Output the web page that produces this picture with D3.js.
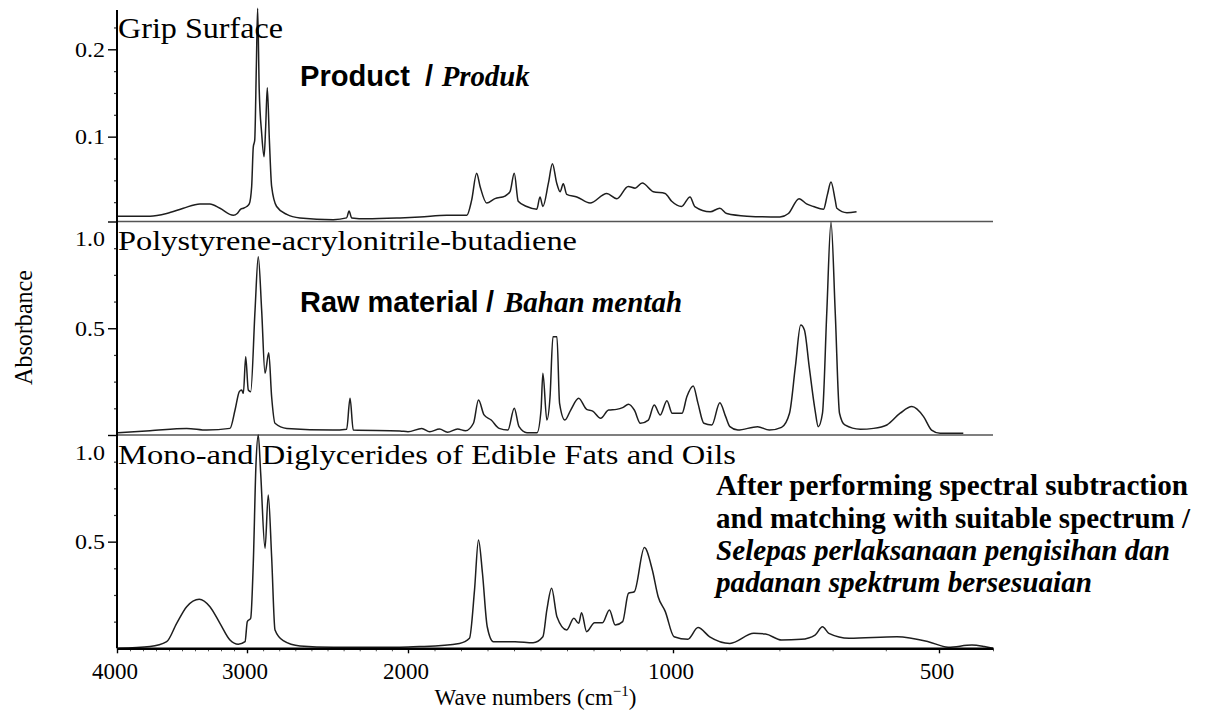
<!DOCTYPE html>
<html>
<head>
<meta charset="utf-8">
<script src="https://cdn.jsdelivr.net/npm/d3@7"></script>
<style>
  body { margin: 0; background: #fff; }
  svg { display: block; }
</style>
</head>
<body>
<svg id="chart" width="1213" height="719"></svg>
<script>
// ---- data (wave number in cm-1, absorbance) ----
const waveTicks = [4000, 3000, 2000, 1000, 500];
const waveTickLabels = ['4000', '3000', '2000', '1000', '500'];

const gripWave = [4000,3746,3618,3490,3362,3285,3208,3105,3075,3048,3028,3002,2986,2971,2961,2952,2942,2934,2924,2909,2894,2884,2874,2861,2847,2816,2753,2671,2464,2381,2366,2350,2257,2050,1955,1854,1778,1760,1741,1728,1703,1672,1634,1615,1599,1584,1552,1514,1502,1491,1470,1455,1439,1426,1414,1401,1363,1313,1250,1212,1169,1143,1116,1074,1030,1005,984,968,959,930,912,899,861,799,783,763,749,736,717,710,703,695,692,673,655];
const gripAbs = [0.009,0.009,0.012,0.018,0.023,0.023,0.018,0.010,0.012,0.017,0.018,0.020,0.023,0.043,0.088,0.096,0.180,0.247,0.153,0.104,0.077,0.111,0.156,0.096,0.043,0.020,0.011,0.007,0.005,0.007,0.015,0.007,0.006,0.007,0.008,0.010,0.010,0.027,0.058,0.043,0.024,0.029,0.032,0.037,0.058,0.026,0.020,0.017,0.031,0.020,0.047,0.069,0.047,0.037,0.046,0.034,0.031,0.024,0.035,0.029,0.043,0.041,0.047,0.037,0.035,0.026,0.020,0.031,0.020,0.014,0.018,0.012,0.009,0.008,0.012,0.029,0.023,0.020,0.017,0.033,0.048,0.027,0.018,0.013,0.014];

const absWave = [3992,3746,3464,3310,3131,3092,3059,3041,3028,3010,2992,2977,2950,2930,2909,2888,2865,2847,2826,2753,2466,2381,2360,2340,2050,2000,1948,1918,1881,1851,1813,1783,1753,1734,1713,1686,1656,1623,1599,1581,1551,1513,1498,1491,1476,1464,1453,1438,1428,1408,1386,1356,1326,1303,1273,1243,1213,1190,1168,1146,1123,1093,1071,1048,1023,1003,983,974,962,953,942,927,912,901,893,878,841,819,796,781,770,760,753,744,733,727,719,711,703,695,687,677,648,623,598,573,551,529,514,498,455];
const absAbs = [0.011,0.020,0.031,0.023,0.031,0.117,0.203,0.211,0.195,0.367,0.211,0.203,0.585,0.835,0.585,0.289,0.385,0.179,0.055,0.031,0.023,0.027,0.172,0.023,0.019,0.015,0.031,0.015,0.028,0.013,0.028,0.020,0.055,0.164,0.094,0.070,0.031,0.023,0.125,0.039,0.011,0.011,0.117,0.289,0.070,0.179,0.460,0.460,0.148,0.070,0.117,0.172,0.120,0.112,0.078,0.117,0.120,0.128,0.144,0.117,0.055,0.070,0.141,0.094,0.161,0.102,0.102,0.179,0.230,0.148,0.055,0.047,0.151,0.086,0.039,0.023,0.039,0.023,0.036,0.102,0.320,0.515,0.492,0.320,0.117,0.039,0.102,0.570,0.996,0.571,0.102,0.047,0.027,0.031,0.047,0.102,0.133,0.086,0.023,0.008,0.008];

const glycWave = [3990,3746,3618,3541,3464,3367,3285,3208,3131,3067,3015,2998,2977,2961,2944,2930,2915,2888,2868,2847,2826,2775,2671,2464,2050,1956,1806,1768,1749,1734,1719,1701,1678,1596,1528,1491,1476,1458,1438,1401,1374,1356,1345,1326,1296,1266,1240,1218,1190,1168,1146,1108,1078,1056,1029,998,972,953,931,893,848,826,796,759,733,719,707,669,579,520,483,439,416,400];
const glycAbs = [0.000,0.008,0.031,0.117,0.195,0.230,0.195,0.117,0.039,0.019,0.031,0.125,0.141,0.398,0.867,1.000,0.820,0.469,0.719,0.429,0.086,0.036,0.011,0.005,0.005,0.008,0.023,0.047,0.273,0.508,0.352,0.101,0.031,0.031,0.026,0.054,0.180,0.281,0.148,0.086,0.141,0.117,0.167,0.078,0.120,0.120,0.180,0.109,0.125,0.258,0.265,0.472,0.367,0.242,0.172,0.054,0.042,0.097,0.054,0.023,0.070,0.067,0.039,0.042,0.062,0.101,0.070,0.047,0.054,0.031,0.005,0.015,0.008,0.000];

const gripMajor = [0.1, 0.2];
const gripMinor = [0.025, 0.05, 0.075, 0.125, 0.15, 0.175, 0.225];
const fullMajor = [0.5, 1.0];
const fullMinor = [0.125, 0.25, 0.375, 0.625, 0.75, 0.875];

const panelTitles = ['Grip Surface', 'Polystyrene-acrylonitrile-butadiene', 'Mono-and Diglycerides of Edible Fats and Oils'];

// ---- layout ----
const svg = d3.select('#chart');
const serif = '"Liberation Serif", "Times New Roman", serif';
const sans = '"Liberation Sans", Arial, sans-serif';

// the x axis of the original changes scale at 2000 and 1000 cm-1
const x = d3.scaleLinear()
    .domain([4000, 3000, 2000, 1000, 500, 400])
    .range([117, 247, 408, 673, 939, 993]);

const panels = [
    { wave: gripWave, abs: gripAbs, y: d3.scaleLinear().domain([0, 0.2]).range([224, 49.3]),
      major: gripMajor, minor: gripMinor,
      title: panelTitles[0], titleY: 38.3, titleSize: 30, titleLen: 165 },
    { wave: absWave, abs: absAbs, y: d3.scaleLinear().domain([0, 1]).range([435, 221.5]),
      major: fullMajor, minor: fullMinor,
      title: panelTitles[1], titleY: 250, titleSize: 28, titleLen: 459 },
    { wave: glycWave, abs: glycAbs, y: d3.scaleLinear().domain([0, 1]).range([648.3, 435]),
      major: fullMajor, minor: fullMinor,
      title: panelTitles[2], titleY: 464.3, titleSize: 28, titleLen: 618 }
];

// divider lines between panels
[panels[1].y(1), panels[2].y(1)].forEach(yy => {
    svg.append('line')
        .attr('x1', x(4000)).attr('x2', x(400))
        .attr('y1', yy).attr('y2', yy)
        .attr('stroke', '#555').attr('stroke-width', 1.6);
});

panels.forEach(p => {
    // minor ticks
    const minorAxis = d3.axisLeft(p.y).tickValues(p.minor).tickSize(3).tickFormat('');
    const gm = svg.append('g').attr('transform', `translate(${x(4000)},0)`).call(minorAxis);
    gm.select('.domain').remove();
    gm.selectAll('line').attr('stroke', '#333').attr('stroke-width', 1.2);

    // major ticks + labels
    const majorAxis = d3.axisLeft(p.y).tickValues(p.major).tickSize(9).tickPadding(3).tickFormat(d3.format('.1f'));
    const g = svg.append('g').attr('transform', `translate(${x(4000)},0)`).call(majorAxis);
    g.select('.domain').remove();
    g.selectAll('line').attr('stroke', '#000').attr('stroke-width', 1.4);
    g.selectAll('text')
        .style('font-family', serif).style('font-size', '22px').attr('fill', '#000')
        .attr('textLength', 30).attr('lengthAdjust', 'spacingAndGlyphs');
    g.selectAll('.tick text').filter(d => d === 1).attr('dy', '1.1em');

    // spectrum
    const line = d3.line()
        .x((d, i) => x(p.wave[i]))
        .y((d, i) => p.y(p.abs[i]))
        .curve(d3.curveMonotoneX);
    svg.append('path')
        .datum(p.wave)
        .attr('d', line)
        .attr('fill', 'none')
        .attr('stroke', '#1e1e1e')
        .attr('stroke-width', 1.5)
        .attr('stroke-linejoin', 'round');

    // panel title
    svg.append('text')
        .attr('x', x(4000) + 1).attr('y', p.titleY)
        .style('font-family', serif).style('font-size', p.titleSize + 'px')
        .attr('textLength', p.titleLen).attr('lengthAdjust', 'spacingAndGlyphs')
        .text(p.title);
});

// left axis line across all three panels
svg.append('line')
    .attr('x1', x(4000)).attr('x2', x(4000))
    .attr('y1', panels[0].y(0.245)).attr('y2', panels[2].y(0))
    .attr('stroke', '#000').attr('stroke-width', 2);

// bottom axis
const xMinor = d3.axisBottom(x).tickValues(d3.range(4000, 399, -100)).tickSize(3).tickFormat('').tickSizeOuter(0);
const gxm = svg.append('g').attr('transform', `translate(0,${panels[2].y(0)})`).call(xMinor);
gxm.select('.domain').remove();
gxm.selectAll('line').attr('stroke', '#555').attr('stroke-width', 1);

const xAxis = d3.axisBottom(x)
    .tickValues(waveTicks)
    .tickFormat((d, i) => waveTickLabels[i])
    .tickSize(5).tickSizeOuter(0).tickPadding(9);
const gx = svg.append('g').attr('transform', `translate(0,${panels[2].y(0)})`).call(xAxis);
gx.select('.domain').attr('stroke', '#000').attr('stroke-width', 2.5);
gx.selectAll('.tick line').attr('stroke', '#000').attr('stroke-width', 1.4);
gx.selectAll('text')
    .style('font-family', serif).style('font-size', '23px').attr('fill', '#000')
    .attr('dx', -2.5);

// axis titles
const xt = svg.append('text')
    .attr('x', 535.5).attr('y', 705)
    .attr('text-anchor', 'middle')
    .style('font-family', serif).style('font-size', '23px');
xt.append('tspan').text('Wave numbers (cm');
xt.append('tspan').style('font-size', '15px').attr('dy', -9).text('\u22121');
xt.append('tspan').attr('dy', 9).text(')');

svg.append('text')
    .attr('transform', 'translate(32,327.5) rotate(-90)')
    .attr('text-anchor', 'middle')
    .style('font-family', serif).style('font-size', '25px')
    .attr('textLength', 115).attr('lengthAdjust', 'spacingAndGlyphs')
    .text('Absorbance');

// ---- annotations ----
function note(xp, yp, str, family, weight, fstyle, size, len) {
    const t = svg.append('text')
        .attr('x', xp).attr('y', yp)
        .style('font-family', family).style('font-weight', weight)
        .style('font-style', fstyle).style('font-size', size + 'px')
        .attr('fill', '#000')
        .text(str);
    if (len) t.attr('textLength', len).attr('lengthAdjust', 'spacingAndGlyphs');
    return t;
}

note(300, 86, 'Product', sans, 'bold', 'normal', 29, 110);
note(425, 86, '/', sans, 'bold', 'normal', 29);
note(441.7, 86, 'Produk', serif, 'bold', 'italic', 29, 88);

note(300, 311.7, 'Raw material', sans, 'bold', 'normal', 29, 178.6);
note(486, 311.7, '/', sans, 'bold', 'normal', 29);
note(504, 311.7, 'Bahan mentah', serif, 'bold', 'italic', 29, 178);

note(716, 495, 'After performing spectral subtraction', serif, 'bold', 'normal', 30, 472);
note(716, 528.3, 'and matching with suitable spectrum /', serif, 'bold', 'normal', 30, 474);
note(716, 560, 'Selepas perlaksanaan pengisihan dan', serif, 'bold', 'italic', 30, 454);
note(716, 591.7, 'padanan spektrum bersesuaian', serif, 'bold', 'italic', 30, 376);
</script>
</body>
</html>
